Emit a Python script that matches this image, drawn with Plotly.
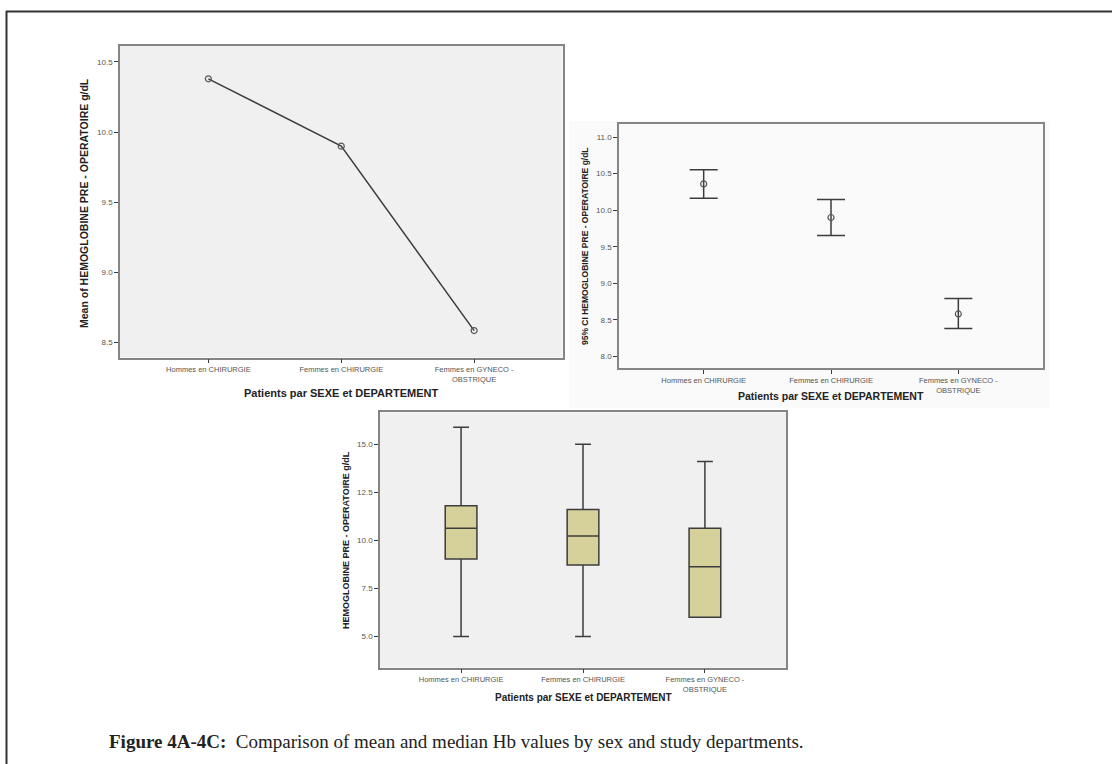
import plotly.graph_objects as go

W, H = 1112, 764

categories = ["Hommes en CHIRURGIE", "Femmes en CHIRURGIE", "Femmes en GYNECO -<br>OBSTRIQUE"]

# Panel A: means
mean_hb = [10.38, 9.90, 8.585]

# Panel B: 95% CI
ci_mean = [10.36, 9.90, 8.58]
ci_upper = [10.555, 10.145, 8.79]
ci_lower = [10.165, 9.655, 8.38]

# Panel C: boxplot stats
box_lower = [5.0, 5.0, 6.0]
box_q1 = [9.02, 8.72, 6.0]
box_median = [10.62, 10.22, 8.62]
box_q3 = [11.8, 11.6, 10.62]
box_upper = [15.88, 15.0, 14.1]

ytitle_a = "Mean of HEMOGLOBINE PRE - OPERATOIRE g/dL"
ytitle_b = "95% CI HEMOGLOBINE PRE - OPERATOIRE g/dL"
ytitle_c = "HEMOGLOBINE PRE - OPERATOIRE g/dL"
xtitle = "Patients par SEXE et DEPARTEMENT"
caption_bold = "Figure 4A-4C:"
caption_text = "Comparison of mean and median Hb values by sex and study departments."

SANS = "Liberation Sans, Arial, sans-serif"
SERIF = "Liberation Serif, Times New Roman, serif"
DARK = "#3c3c3c"


def px(x):
    return x / W


def py(y):
    return 1 - y / H


fig = go.Figure()

fig.add_trace(go.Scatter(
    x=categories, y=mean_hb, mode="lines+markers",
    line=dict(color=DARK, width=1.5),
    marker=dict(symbol="circle-open", size=6, color="#555555", line=dict(width=1.2)),
    xaxis="x", yaxis="y", showlegend=False,
))

fig.add_trace(go.Scatter(
    x=categories, y=ci_mean, mode="markers",
    marker=dict(symbol="circle-open", size=6, color="#555555", line=dict(width=1.2)),
    error_y=dict(type="data", symmetric=False,
                 array=[u - m for u, m in zip(ci_upper, ci_mean)],
                 arrayminus=[m - l for m, l in zip(ci_mean, ci_lower)],
                 color=DARK, thickness=1.5, width=14),
    xaxis="x2", yaxis="y2", showlegend=False,
))

fig.add_trace(go.Box(
    x=categories, q1=box_q1, median=box_median, q3=box_q3,
    lowerfence=box_lower, upperfence=box_upper,
    fillcolor="#d6d09a", line=dict(color=DARK, width=1.5),
    width=0.26, whiskerwidth=0.5, boxpoints=False,
    xaxis="x3", yaxis="y3", showlegend=False,
))

crange = [-0.665, 2.665]
xtickfont = dict(family=SANS, size=7.5, color="#555555")
ytickfont = dict(family=SANS, size=8, color="#555555")
common_x = dict(type="category", categoryorder="array", categoryarray=categories,
                range=crange, showgrid=False, zeroline=False, showline=True, mirror=True,
                linecolor="#858585", linewidth=1.5, ticks="outside", ticklen=4,
                tickcolor=DARK, tickwidth=1, tickfont=xtickfont, fixedrange=True)
common_y = dict(showgrid=False, zeroline=False, showline=True, mirror=True,
                linecolor="#858585", linewidth=1.5, ticks="outside", ticklen=4,
                tickcolor=DARK, tickwidth=1, tickfont=ytickfont, tickformat=".1f")

fig.update_layout(
    width=W, height=H, margin=dict(l=0, r=0, t=0, b=0),
    paper_bgcolor="white", plot_bgcolor="#f0f0f0",
    xaxis=dict(domain=[px(120), px(562.5)], anchor="y", **common_x),
    yaxis=dict(domain=[py(357.5), py(46)], anchor="x", range=[8.393, 10.614],
               tickvals=[8.5, 9.0, 9.5, 10.0, 10.5], **common_y),
    xaxis2=dict(domain=[px(619), px(1043)], anchor="y2", **common_x),
    yaxis2=dict(domain=[py(368), py(124)], anchor="x2", range=[7.84, 11.18],
                tickvals=[8.0, 8.5, 9.0, 9.5, 10.0, 10.5, 11.0], **common_y),
    xaxis3=dict(domain=[px(380), px(786)], anchor="y3", **common_x),
    yaxis3=dict(domain=[py(667.7), py(412.3)], anchor="x3", range=[3.37, 16.66],
                tickvals=[5.0, 7.5, 10.0, 12.5, 15.0], **common_y),
)

shapes = [
    # faint background behind panel B
    dict(type="rect", xref="paper", yref="paper", x0=px(569), x1=px(1050),
         y0=py(408), y1=py(121), fillcolor="#fafafa", line=dict(width=0), layer="below"),
    # outer frame (top and left)
    dict(type="line", xref="paper", yref="paper", x0=px(6), x1=1, y0=py(11.5), y1=py(11.5),
         line=dict(color="#333333", width=2)),
    dict(type="line", xref="paper", yref="paper", x0=px(6.5), x1=px(6.5), y0=0, y1=py(11),
         line=dict(color="#333333", width=2)),
]
fig.update_layout(shapes=shapes)

ann = []


def title_font(s):
    return dict(family=SANS, size=s, color="#222222")


def add_ann(text, x, y, size, angle=0):
    ann.append(dict(text=text, x=px(x), y=py(y), xref="paper", yref="paper",
                    xanchor="center", yanchor="middle", textangle=angle,
                    showarrow=False, font=title_font(size)))


add_ann("<b>%s</b>" % ytitle_a, 84, 203, 10.5, -90)
add_ann("<b>%s</b>" % xtitle, 341, 393, 11)
add_ann("<b>%s</b>" % ytitle_b, 585, 246, 8.5, -90)
add_ann("<b>%s</b>" % xtitle, 831, 396, 10.5)
add_ann("<b>%s</b>" % ytitle_c, 346, 540, 9, -90)
add_ann("<b>%s</b>" % xtitle, 583, 697, 10)
ann.append(dict(text="<b>%s</b>&nbsp;&nbsp;%s" % (caption_bold, caption_text),
                x=px(107), y=py(741), xref="paper", yref="paper",
                xanchor="left", yanchor="middle",
                showarrow=False, font=dict(family=SERIF, size=19, color="#222222")))
fig.update_layout(annotations=ann)

fig.write_html("out.html")
